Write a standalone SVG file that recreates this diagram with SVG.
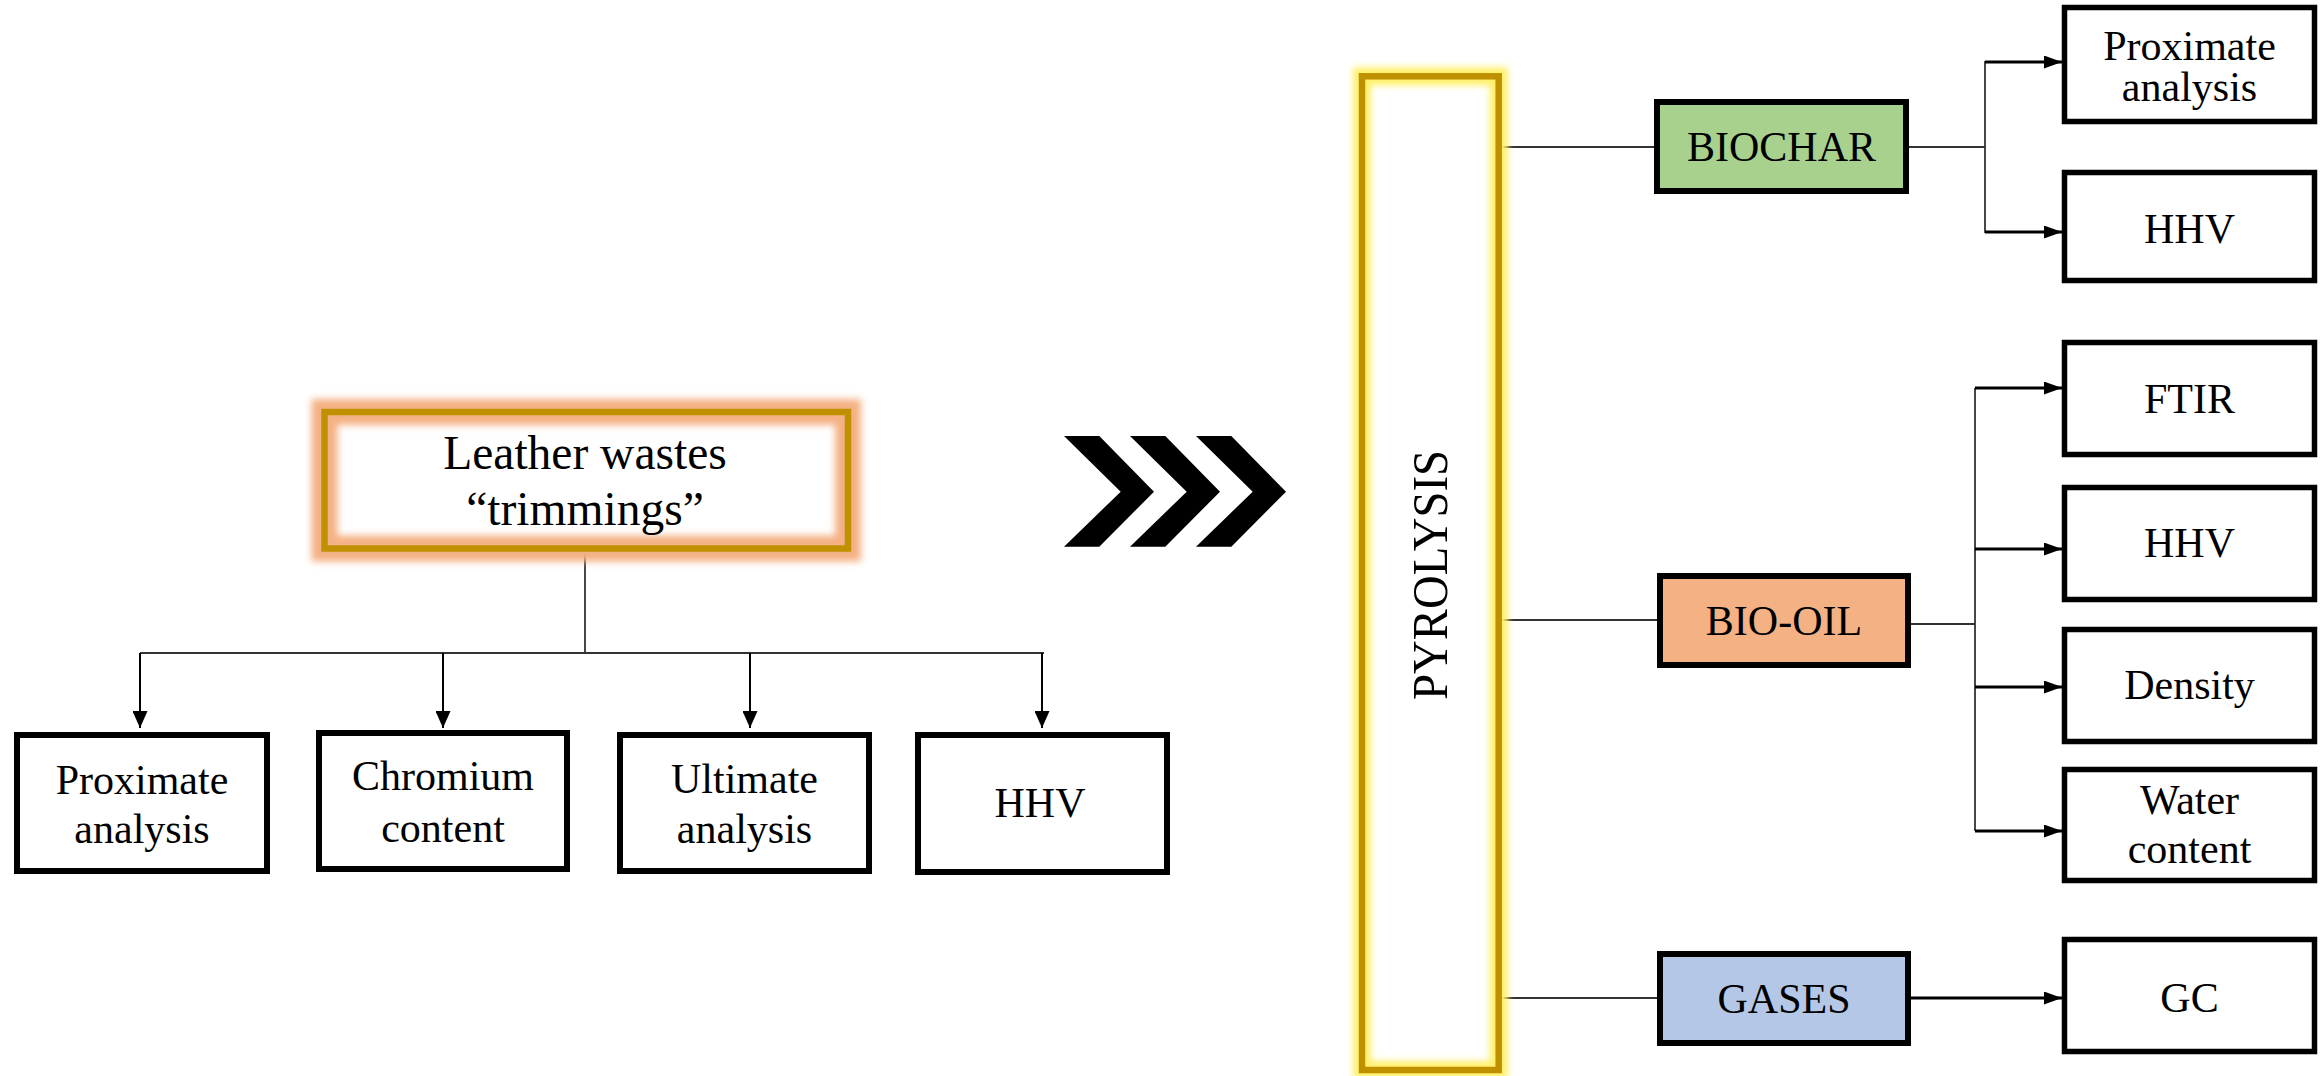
<svg xmlns="http://www.w3.org/2000/svg" width="2323" height="1076" viewBox="0 0 2323 1076">
<style>
  .t{font-family:"Liberation Serif","Times New Roman",serif;fill:#000;text-anchor:middle}
  .f42{font-size:42px}
  .box{fill:#fff;stroke:#000;stroke-width:6}
  .rbox{fill:#fff;stroke:#000;stroke-width:5.5}
  .thin{stroke:#333;stroke-width:1.8;fill:none}
  .arrD{stroke:#000;stroke-width:2;fill:none;marker-end:url(#headD)}
  .arrR{stroke:#000;stroke-width:3.2;fill:none;marker-end:url(#headR)}
  .gold{fill:none;stroke:#BF9000;stroke-width:6.5}
</style>
<defs>
  <marker id="headD" markerUnits="userSpaceOnUse" markerWidth="17" markerHeight="15" refX="17" refY="7.5" orient="auto">
    <path d="M0,0 L17,7.5 L0,15 z" fill="#000"/>
  </marker>
  <marker id="headR" markerUnits="userSpaceOnUse" markerWidth="18" markerHeight="13" refX="18" refY="6.5" orient="auto">
    <path d="M0,0 L18,6.5 L0,13 z" fill="#000"/>
  </marker>
  <filter id="blur4" x="-20%" y="-20%" width="140%" height="140%"><feGaussianBlur stdDeviation="3.5"/></filter>
  <filter id="blur3" x="-20%" y="-20%" width="140%" height="140%"><feGaussianBlur stdDeviation="3"/></filter>
</defs>
<rect width="2323" height="1076" fill="#fff"/>

<g id="connectors">
  <line class="thin" x1="585" y1="552" x2="585" y2="653"/>
  <line class="thin" x1="140" y1="653" x2="1044" y2="653"/>
  <line class="arrD" x1="140" y1="653" x2="140" y2="728"/>
  <line class="arrD" x1="443" y1="653" x2="443" y2="728"/>
  <line class="arrD" x1="750" y1="653" x2="750" y2="728"/>
  <line class="arrD" x1="1042" y1="653" x2="1042" y2="728"/>

  <line class="thin" x1="1502" y1="147" x2="1654" y2="147"/>
  <line class="thin" x1="1909" y1="147" x2="1985" y2="147"/>
  <line class="thin" x1="1985" y1="61" x2="1985" y2="233"/>
  <line class="arrR" x1="1985" y1="62" x2="2062" y2="62"/>
  <line class="arrR" x1="1985" y1="232" x2="2062" y2="232"/>

  <line class="thin" x1="1502" y1="620" x2="1657" y2="620"/>
  <line class="thin" x1="1911" y1="624" x2="1975" y2="624"/>
  <line class="thin" x1="1975" y1="388" x2="1975" y2="831"/>
  <line class="arrR" x1="1975" y1="388" x2="2062" y2="388"/>
  <line class="arrR" x1="1975" y1="549" x2="2062" y2="549"/>
  <line class="arrR" x1="1975" y1="687" x2="2062" y2="687"/>
  <line class="arrR" x1="1975" y1="831" x2="2062" y2="831"/>

  <line class="thin" x1="1502" y1="998" x2="1657" y2="998"/>
  <line class="arrR" x1="1911" y1="998" x2="2062" y2="998"/>
</g>

<g id="leather">
  <rect x="324.5" y="412" width="523.5" height="136.5" fill="none" stroke="#F4B183" stroke-width="26" filter="url(#blur4)"/>
  <rect x="324.5" y="412" width="523.5" height="136.5" class="gold"/>
  <text class="t" x="585" y="469" font-size="47.5">Leather wastes</text>
  <text class="t" x="585" y="525" font-size="47.5">“trimmings”</text>
</g>

<g id="raw-proximate">
  <rect class="box" x="17" y="735" width="250" height="136"/>
  <text class="t f42" x="142" y="794">Proximate</text>
  <text class="t f42" x="142" y="843">analysis</text>
</g>
<g id="raw-chromium">
  <rect class="box" x="319" y="733" width="248" height="136"/>
  <text class="t f42" x="443" y="790">Chromium</text>
  <text class="t f42" x="443" y="842">content</text>
</g>
<g id="raw-ultimate">
  <rect class="box" x="620" y="735" width="249" height="136"/>
  <text class="t f42" x="744.5" y="793">Ultimate</text>
  <text class="t f42" x="744.5" y="843">analysis</text>
</g>
<g id="raw-hhv">
  <rect class="box" x="918" y="735" width="249" height="137"/>
  <text class="t f42" x="1040" y="817">HHV</text>
</g>

<g id="chevrons" fill="#000">
  <polygon points="1064,436 1099.3,436 1154,491.7 1099.3,546.7 1064,546.7 1120.7,491.7"/>
  <polygon points="1130,436 1165.3,436 1220,491.7 1165.3,546.7 1130,546.7 1186.7,491.7"/>
  <polygon points="1196,436 1231.3,436 1286,491.7 1231.3,546.7 1196,546.7 1252.7,491.7"/>
</g>

<g id="pyrolysis">
  <rect x="1362" y="76.3" width="136.7" height="993.7" fill="none" stroke="#FFF06A" stroke-width="18" filter="url(#blur3)"/>
  <rect x="1362" y="76.3" width="136.7" height="993.7" class="gold"/>
  <text class="t" transform="translate(1447,575) rotate(-90)" x="0" y="0" font-size="51" textLength="250" lengthAdjust="spacingAndGlyphs">PYROLYSIS</text>
</g>

<g id="biochar">
  <rect x="1657" y="102" width="249" height="89" fill="#A9D18E" stroke="#000" stroke-width="6"/>
  <text class="t f42" x="1781.5" y="161">BIOCHAR</text>
</g>
<g id="biooil">
  <rect x="1660" y="576" width="248" height="89" fill="#F4B183" stroke="#000" stroke-width="6"/>
  <text class="t f42" x="1784" y="635">BIO-OIL</text>
</g>
<g id="gases">
  <rect x="1660" y="954" width="248" height="89" fill="#B4C7E7" stroke="#000" stroke-width="6"/>
  <text class="t f42" x="1784" y="1012.5">GASES</text>
</g>

<g id="char-proximate">
  <rect class="rbox" x="2064.5" y="7.5" width="250" height="114"/>
  <text class="t f42" x="2189.5" y="60">Proximate</text>
  <text class="t f42" x="2189.5" y="101">analysis</text>
</g>
<g id="char-hhv">
  <rect class="rbox" x="2064.5" y="172.5" width="250" height="108"/>
  <text class="t f42" x="2189.5" y="243">HHV</text>
</g>
<g id="oil-ftir">
  <rect class="rbox" x="2064.5" y="342.5" width="250" height="112"/>
  <text class="t f42" x="2189.5" y="413">FTIR</text>
</g>
<g id="oil-hhv">
  <rect class="rbox" x="2064.5" y="487.5" width="250" height="112"/>
  <text class="t f42" x="2189.5" y="557">HHV</text>
</g>
<g id="oil-density">
  <rect class="rbox" x="2064.5" y="629.5" width="250" height="112"/>
  <text class="t f42" x="2189.5" y="699">Density</text>
</g>
<g id="oil-water">
  <rect class="rbox" x="2064.5" y="769.5" width="250" height="111"/>
  <text class="t f42" x="2189.5" y="814">Water</text>
  <text class="t f42" x="2189.5" y="863">content</text>
</g>
<g id="gas-gc">
  <rect class="rbox" x="2064.5" y="939.5" width="250" height="112"/>
  <text class="t f42" x="2189.5" y="1012">GC</text>
</g>
</svg>
